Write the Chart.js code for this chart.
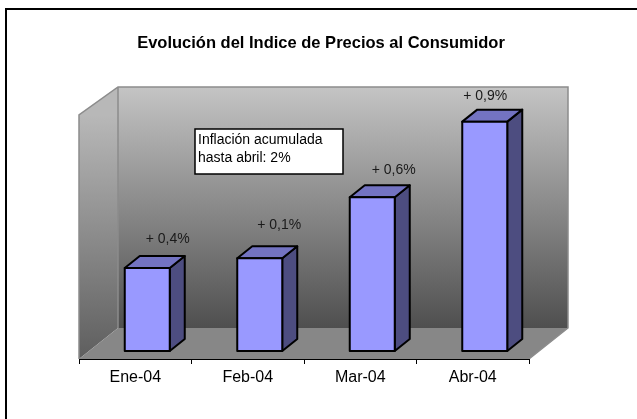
<!DOCTYPE html>
<html>
<head>
<meta charset="utf-8">
<script src="https://cdn.jsdelivr.net/npm/chart.js@4.4.1/dist/chart.umd.min.js"></script>
<style>
  body { margin: 0; background: #fff; }
</style>
</head>
<body>
<canvas id="grafico" width="637" height="419"></canvas>
<script>
// datos (la escala de valores no se muestra)
var meses = ['Ene-04', 'Feb-04', 'Mar-04', 'Abr-04'];
var indice = [1.02, 1.14, 1.89, 2.82];
var variaciones = ['+ 0,4%', '+ 0,1%', '+ 0,6%', '+ 0,9%'];
var titulo = 'Evolución del Indice de Precios al Consumidor';
var nota = ['Inflación acumulada', 'hasta abril: 2%'];
var escalaMax = 3;

var FUENTE = 'Arial, "Liberation Sans", sans-serif';

/*=============================================
PAREDES Y PISO 3D
=============================================*/
var fondo3d = {
    id: 'fondo3d',
    beforeDraw: function (chart) {
        var ctx = chart.ctx, a = chart.chartArea;
        var bl = a.left + 39, br = a.right + 39, bt = a.top - 28, bb = a.bottom - 31;
        ctx.save();

        // marco exterior
        ctx.strokeStyle = '#000';
        ctx.lineWidth = 2;
        ctx.strokeRect(6, 9, 680, 460);

        // titulo
        ctx.fillStyle = '#000';
        ctx.font = 'bold 16.5px ' + FUENTE;
        ctx.textAlign = 'center';
        ctx.textBaseline = 'alphabetic';
        ctx.fillText(titulo, 321, 48);

        // pared del fondo
        var g = ctx.createLinearGradient(0, bt, 0, bb);
        g.addColorStop(0, '#c4c4c4');
        g.addColorStop(1, '#4f4f4f');
        ctx.fillStyle = g;
        ctx.fillRect(bl, bt, br - bl, bb - bt);

        // pared izquierda
        g = ctx.createLinearGradient(0, a.top, 0, a.bottom);
        g.addColorStop(0, '#b8b8b8');
        g.addColorStop(1, '#5e5e5e');
        ctx.fillStyle = g;
        ctx.beginPath();
        ctx.moveTo(a.left, a.top);
        ctx.lineTo(bl, bt);
        ctx.lineTo(bl, bb);
        ctx.lineTo(a.left, a.bottom);
        ctx.closePath();
        ctx.fill();

        // piso
        ctx.fillStyle = '#878787';
        ctx.beginPath();
        ctx.moveTo(a.left, a.bottom);
        ctx.lineTo(bl, bb);
        ctx.lineTo(br, bb);
        ctx.lineTo(a.right, a.bottom);
        ctx.closePath();
        ctx.fill();

        // bordes
        ctx.strokeStyle = '#8c8c8c';
        ctx.lineWidth = 1.5;
        ctx.beginPath();
        ctx.moveTo(a.left, a.bottom);
        ctx.lineTo(a.left, a.top);
        ctx.lineTo(bl, bt);
        ctx.lineTo(br, bt);
        ctx.lineTo(br, bb);
        ctx.lineTo(a.right, a.bottom);
        ctx.moveTo(bl, bt);
        ctx.lineTo(bl, bb);
        ctx.stroke();
        ctx.restore();
    }
};

/*=============================================
BARRAS 3D + ETIQUETAS
=============================================*/
var barras3d = {
    id: 'barras3d',
    afterDatasetsDraw: function (chart, args, opts) {
        var ctx = chart.ctx;
        var meta = chart.getDatasetMeta(0);
        meta.data.forEach(function (bar, i) {
            var p = bar.getProps(['x', 'y', 'base', 'width'], true);
            var x0 = p.x - p.width / 2 + opts.dx, x1 = x0 + p.width;
            var top = p.y + opts.dy, bot = p.base + opts.dy;
            var px = opts.px, py = opts.py;

            ctx.save();
            ctx.lineWidth = 2;
            ctx.strokeStyle = '#000';
            ctx.lineJoin = 'round';

            // lado
            ctx.fillStyle = opts.lado;
            ctx.beginPath();
            ctx.moveTo(x1, top);
            ctx.lineTo(x1 + px, top - py);
            ctx.lineTo(x1 + px, bot - py);
            ctx.lineTo(x1, bot);
            ctx.closePath();
            ctx.fill();
            ctx.stroke();

            // tapa
            ctx.fillStyle = opts.tapa;
            ctx.beginPath();
            ctx.moveTo(x0, top);
            ctx.lineTo(x0 + px, top - py);
            ctx.lineTo(x1 + px, top - py);
            ctx.lineTo(x1, top);
            ctx.closePath();
            ctx.fill();
            ctx.stroke();

            // frente
            ctx.fillStyle = opts.frente;
            ctx.fillRect(x0, top, p.width, bot - top);
            ctx.strokeRect(x0, top, p.width, bot - top);

            // etiqueta
            ctx.fillStyle = '#1a1a1a';
            ctx.font = '14px ' + FUENTE;
            ctx.textAlign = 'center';
            ctx.textBaseline = 'middle';
            ctx.fillText(variaciones[i], x1 + opts.etiquetaDx[i], top + opts.etiquetaDy[i]);
            ctx.restore();
        });
    },
    afterDraw: function (chart) {
        var ctx = chart.ctx, a = chart.chartArea;
        var x = a.left + 116, y = a.top + 14;
        ctx.save();
        ctx.fillStyle = '#fff';
        ctx.fillRect(x, y, 148, 45);
        ctx.strokeStyle = '#000';
        ctx.lineWidth = 1.5;
        ctx.strokeRect(x, y, 148, 45);
        ctx.fillStyle = '#000';
        ctx.font = '14px ' + FUENTE;
        ctx.textAlign = 'left';
        ctx.textBaseline = 'alphabetic';
        ctx.fillText(nota[0], x + 3, y + 15);
        ctx.fillText(nota[1], x + 3, y + 33);
        ctx.restore();
    }
};

new Chart(document.getElementById('grafico'), {
    type: 'bar',
    data: {
        labels: meses,
        datasets: [{
            data: indice,
            backgroundColor: 'rgba(0,0,0,0)',
            borderWidth: 0,
            barPercentage: 0.4,
            categoryPercentage: 1
        }]
    },
    options: {
        responsive: false,
        animation: false,
        layout: {
            padding: { left: 79, right: 108, top: 115, bottom: 0 }
        },
        plugins: {
            legend: { display: false },
            title: { display: false },
            tooltip: { enabled: false },
            barras3d: {
                dx: 12, dy: -8,       // la barra esta a media profundidad
                px: 15, py: 12,       // profundidad de la barra
                frente: '#9999ff',
                tapa: '#7373c2',
                lado: '#4d4d80',
                etiquetaDx: [-2, -3, -1, -22],
                etiquetaDy: [-29, -33, -27, -25]
            }
        },
        scales: {
            x: {
                grid: { offset: true, drawOnChartArea: false, color: '#000', tickLength: 5, lineWidth: 1 },
                border: { color: '#000', width: 1 },
                ticks: { color: '#000', font: { family: FUENTE, size: 16 }, padding: 4 },
                afterFit: function (s) { s.height = 60; }
            },
            y: {
                display: false,
                min: 0,
                max: escalaMax
            }
        }
    },
    plugins: [fondo3d, barras3d]
});
</script>
</body>
</html>
